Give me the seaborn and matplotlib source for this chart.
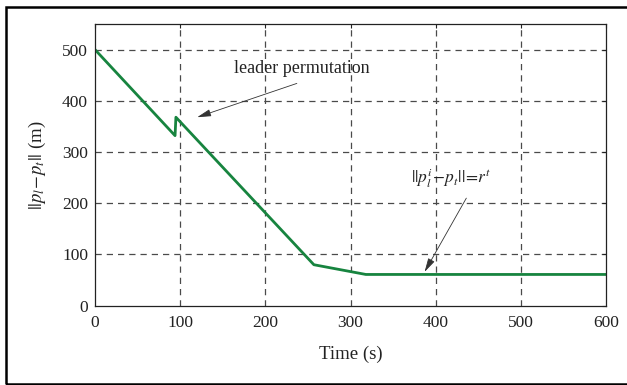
import numpy as np
import pandas as pd
import matplotlib
matplotlib.use("Agg")
import matplotlib.pyplot as plt
from matplotlib.patches import Rectangle
import seaborn as sns

# Distance between the leader and the target over time
time_s = [0, 94, 95, 257, 318, 600]
distance_m = [500, 332, 368, 80, 61, 61]

x_ticks = [0, 100, 200, 300, 400, 500, 600]
y_ticks = [0, 100, 200, 300, 400, 500]

df = pd.DataFrame({"Time (s)": time_s, "distance": distance_m})

sns.set_theme(style="white")
plt.rcParams["font.family"] = ["Liberation Serif", "DejaVu Serif"]
plt.rcParams["mathtext.fontset"] = "stix"

fig = plt.figure(figsize=(6.27, 3.85), dpi=100)
ax = fig.add_axes([95 / 627, 1 - 305.7 / 385, (606 - 95) / 627, (305.7 - 24) / 385])

sns.lineplot(data=df, x="Time (s)", y="distance", ax=ax,
             color="#17843f", linewidth=2.0)

ax.set_xlim(0, 600)
ax.set_ylim(0, 550)
ax.set_xticks(x_ticks)
ax.set_yticks(y_ticks)
ax.tick_params(direction="in", length=3, width=0.8, labelsize=12.5,
               top=True, right=True, colors="#222222", pad=5)
ax.tick_params(axis="x", pad=7)
for lbl in ax.get_xticklabels() + ax.get_yticklabels():
    lbl.set_color("#222222")

# dashed grid at the inner ticks only
for xv in x_ticks[1:-1]:
    ax.axvline(xv, color="#4a4a4a", linestyle=(0, (5, 4)), linewidth=0.9, zorder=0)
for yv in y_ticks[1:]:
    ax.axhline(yv, color="#4a4a4a", linestyle=(0, (5, 4)), linewidth=0.9, zorder=0)

for sp in ax.spines.values():
    sp.set_color("#222222")
    sp.set_linewidth(0.9)

ax.set_xlabel("Time (s)", fontsize=13.5, labelpad=10, color="#222222")
ax.set_ylabel(r"$||p_l\!-\!p_t||$ (m)", fontsize=13.5, labelpad=10, color="#222222")

arrow = dict(arrowstyle="-|>,head_length=0.7,head_width=0.18",
             color="#333333", linewidth=0.6, shrinkA=0, shrinkB=0)
ax.annotate("", xy=(120, 368), xytext=(237, 434), arrowprops=arrow)
ax.text(243, 463, "leader permutation", fontsize=13, ha="center", va="center",
        color="#222222")
ax.annotate("", xy=(387, 66), xytext=(436, 210), arrowprops=arrow)
ax.text(418, 249, r"$||p_l^i\!-\!p_t||\!=\!r^t$", fontsize=12.5, ha="center",
        va="center", color="#222222")

# outer frame
fig.patches.append(Rectangle((5.7 / 627, 1 - 384 / 385), 1.2, (384 - 6.7) / 385,
                             transform=fig.transFigure, fill=False,
                             edgecolor="black", linewidth=1.8))

fig.savefig("out.png", dpi=100)
